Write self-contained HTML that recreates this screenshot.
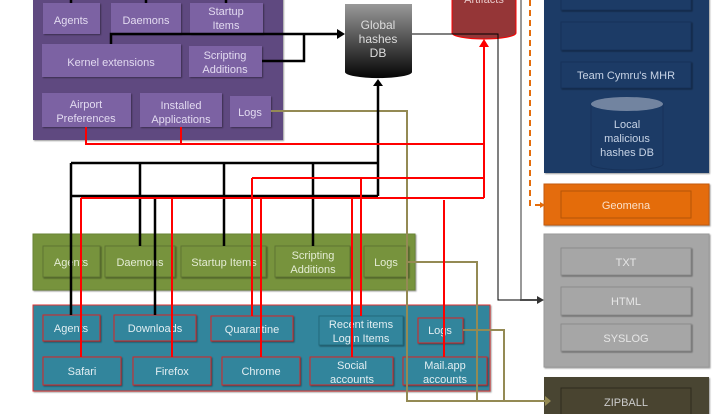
<!DOCTYPE html>
<html><head><style>
body{margin:0;background:#fff}
svg{display:block}
text{font-family:"Liberation Sans",sans-serif;font-size:11px;text-anchor:middle}
</style></head><body>
<svg width="720" height="414" viewBox="0 0 720 414" xmlns="http://www.w3.org/2000/svg">
<defs>
<linearGradient id="g" x1="0" y1="0" x2="0" y2="1"><stop offset="0" stop-color="#999"/><stop offset="1" stop-color="#050505"/></linearGradient>
<filter id="s"><feDropShadow dx="1" dy="1" stdDeviation="0.8" flood-opacity="0.4"/></filter>
</defs>
<!-- purple panel -->
<rect x="33" y="-5" width="250" height="145" fill="#5f4a80" filter="url(#s)"/>
<g fill="#7b62a3" filter="url(#s)">
<rect x="43" y="3" width="57" height="31"/><rect x="111" y="3" width="70" height="31"/><rect x="190" y="3" width="73" height="31"/>
<rect x="42" y="44" width="139" height="33"/><rect x="189" y="46" width="73" height="31"/>
<rect x="42" y="93" width="89" height="34"/><rect x="140" y="93" width="82" height="34"/><rect x="230" y="96" width="41" height="31"/>
</g>
<g fill="#e2daf0">
<text x="71" y="24">Agents</text><text x="146" y="24">Daemons</text><text x="226" y="15">Startup</text><text x="226" y="29">Items</text>
<text x="111" y="66">Kernel extensions</text><text x="225" y="59">Scripting</text><text x="225" y="73">Additions</text>
<text x="86" y="108">Airport</text><text x="86" y="122">Preferences</text><text x="181" y="109">Installed</text><text x="181" y="123">Applications</text><text x="250" y="116">Logs</text>
</g>
<!-- global DB -->
<path d="M345 4 V72 A33 6 0 0 0 412 72 V4 Z" fill="url(#g)"/>
<text x="378" y="29" fill="#ddd" style="font-size:12px">Global</text><text x="378" y="43" fill="#ddd" style="font-size:12px">hashes</text><text x="378" y="57" fill="#ddd" style="font-size:12px">DB</text>
<!-- artifacts -->
<path d="M452 -5 V33 A32 6 0 0 0 516 33 V-5 Z" fill="#953637" stroke="#f00" stroke-width="1"/>
<text x="484" y="3" fill="#e8c8c8">Artifacts</text>
<!-- right panels -->
<rect x="544" y="-5" width="165" height="178" fill="#1c3b66" filter="url(#s)"/>
<g fill="#1c3b66" stroke="#17325a" filter="url(#s)">
<rect x="561" y="-5" width="130" height="15"/><rect x="561" y="22" width="130" height="28"/><rect x="561" y="62" width="130" height="26"/>
</g>
<text x="626" y="79" fill="#c8d4e6">Team Cymru's MHR</text>
<path d="M591 104 V164 A36 6 0 0 0 663 164 V104 Z" fill="#1c3b66" stroke="#17325a"/>
<ellipse cx="627" cy="104" rx="36" ry="7" fill="#7284a0"/>
<text x="627" y="128" fill="#c8d4e6">Local</text><text x="627" y="142" fill="#c8d4e6">malicious</text><text x="627" y="156" fill="#c8d4e6">hashes DB</text>
<rect x="544" y="184" width="165" height="41" fill="#e46c0a" stroke="#c55a08" filter="url(#s)"/>
<rect x="561" y="191" width="130" height="27" fill="#e46c0a" stroke="#b45508"/>
<text x="626" y="209" fill="#fbe0c8">Geomena</text>
<rect x="544" y="234" width="165" height="133" fill="#a6a6a6" stroke="#999" filter="url(#s)"/>
<g fill="#a6a6a6" stroke="#8c8c8c" filter="url(#s)"><rect x="561" y="248" width="130" height="27"/><rect x="561" y="287" width="130" height="28"/><rect x="561" y="324" width="130" height="27"/></g>
<g fill="#e6e6e6"><text x="626" y="266">TXT</text><text x="626" y="305">HTML</text><text x="626" y="342">SYSLOG</text></g>
<rect x="544" y="377" width="165" height="42" fill="#494430" filter="url(#s)"/>
<rect x="561" y="388" width="130" height="30" fill="#494430" stroke="#2e2b1e"/>
<text x="626" y="406" fill="#ccc">ZIPBALL</text>
<!-- green panel -->
<rect x="33" y="234" width="382" height="56" fill="#77933c" stroke="#6a8434" filter="url(#s)"/>
<g fill="#77933c" stroke="#5e7530" filter="url(#s)">
<rect x="43" y="246" width="57" height="31"/><rect x="105" y="246" width="70" height="31"/><rect x="181" y="246" width="85" height="31"/><rect x="275" y="246" width="75" height="31"/><rect x="364" y="246" width="44" height="31"/>
</g>
<g fill="#e4ecd4"><text x="71" y="266">Agents</text><text x="140" y="266">Daemons</text><text x="224" y="266">Startup Items</text><text x="313" y="259">Scripting</text><text x="313" y="273">Additions</text><text x="386" y="266">Logs</text></g>
<!-- blue panel -->
<rect x="33" y="305" width="457" height="86" fill="#31859c" stroke="#e03030" filter="url(#s)"/>
<g fill="#31859c" stroke="#e02020" filter="url(#s)">
<rect x="43" y="315" width="57" height="26"/><rect x="114" y="315" width="82" height="26"/><rect x="211" y="316" width="82" height="25"/>
<rect x="418" y="318" width="45" height="25"/>
<rect x="43" y="357" width="78" height="28"/><rect x="133" y="357" width="78" height="28"/><rect x="222" y="357" width="78" height="28"/><rect x="310" y="357" width="83" height="28"/><rect x="403" y="357" width="84" height="28"/>
</g>
<rect x="319" y="316" width="84" height="29" fill="#31859c" stroke="#236a7c" filter="url(#s)"/>
<g fill="#e2eef2">
<text x="71" y="332">Agents</text><text x="155" y="332">Downloads</text><text x="252" y="333">Quarantine</text><text x="361" y="328">Recent items</text><text x="361" y="342">Login Items</text><text x="440" y="334">Logs</text>
<text x="82" y="375">Safari</text><text x="172" y="375">Firefox</text><text x="261" y="375">Chrome</text><text x="352" y="369">Social</text><text x="352" y="383">accounts</text><text x="445" y="369">Mail.app</text><text x="445" y="383">accounts</text>
</g>
<!-- connectors: olive -->
<g fill="none" stroke="#948a54" stroke-width="2">
<polyline points="271,111 407,111 407,401 545,401"/>
<polyline points="408,262 477,262 477,401"/>
<polyline points="463,330 504,330 504,401"/>
</g>
<path d="M545 396 L551 401 L545 406 Z" fill="#948a54"/>
<!-- gray / orange -->
<polyline points="521,0 521,300 538,300" fill="none" stroke="#999" stroke-width="2"/>
<polyline points="530,0 530,205 540,205" fill="none" stroke="#e46c0a" stroke-width="2" stroke-dasharray="6,4"/>
<path d="M540 202 L545 205 L540 208 Z" fill="#e46c0a"/>
<polyline points="412,34 498,34 498,300 538,300" fill="none" stroke="#000" stroke-width="1"/>
<path d="M537 296 L544 300 L537 304 Z" fill="#333"/>
<!-- black -->
<g fill="none" stroke="#000" stroke-width="2.5">
<polyline points="71,0 71,3"/><polyline points="146,0 146,3"/><polyline points="226,0 226,3"/>
<polyline points="111,44 111,34 342,34"/><polyline points="262,61 304,61 304,34"/>
<polyline points="71,163 378,163"/><polyline points="71,196 378,196"/><polyline points="378,196 378,82"/>
<polyline points="71,163 71,315"/><polyline points="140,163 140,246"/><polyline points="224,163 224,246"/><polyline points="313,163 313,246"/><polyline points="155,196 155,315"/>
</g>
<path d="M337 29 L345 34 L337 39 Z" fill="#000"/>
<path d="M373 86 L378 79 L383 86 Z" fill="#000"/>
<!-- red -->
<g fill="none" stroke="#f00" stroke-width="2">
<polyline points="86,127 86,144 484,144"/><polyline points="181,127 181,144"/>
<polyline points="484,42 484,198"/>
<polyline points="252,178 484,178"/><polyline points="81,198 484,198"/>
<polyline points="81,198 81,357"/><polyline points="172,198 172,357"/><polyline points="252,178 252,316"/><polyline points="261,198 261,357"/><polyline points="352,198 352,357"/><polyline points="361,178 361,316"/><polyline points="444,200 444,357"/>
</g>
<path d="M479 47 L484 39 L489 47 Z" fill="#f00"/>
</svg>
</body></html>
